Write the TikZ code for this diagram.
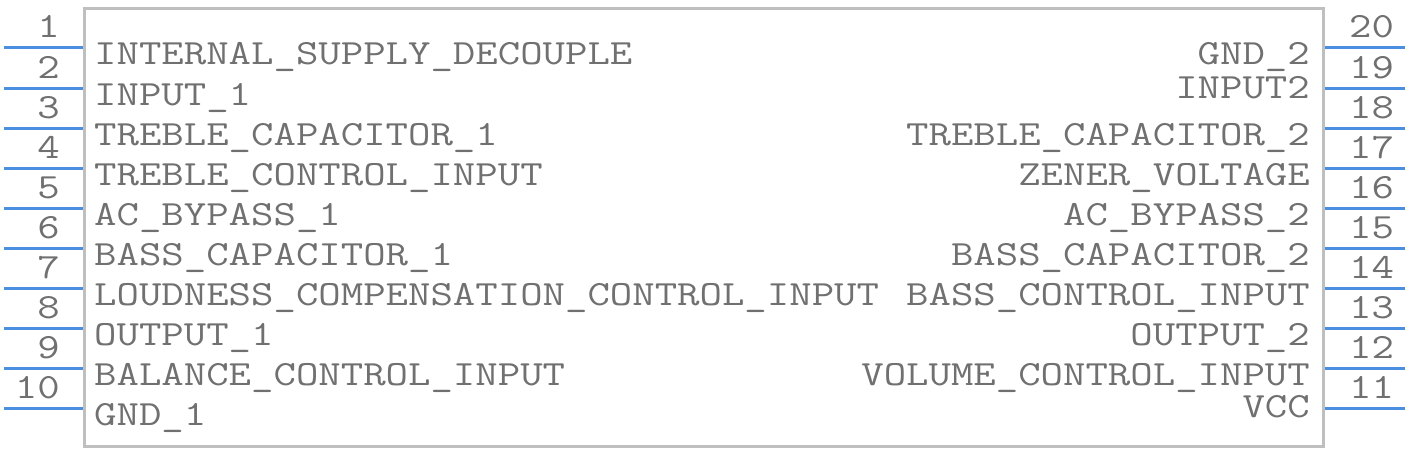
\documentclass[tikz,border=0pt]{standalone}
\usepackage{tikz}
\definecolor{pinblue}{HTML}{4A8FE2}
\definecolor{bodygray}{HTML}{BFBFBF}
\definecolor{textgray}{HTML}{707070}
\newcommand{\wide}[1]{\scalebox{1.23}[1]{#1}}
\tikzset{%
    body/.style={line width=3pt, bodygray},
    pinline/.style={line width=3pt, pinblue},
    pinnum/.style={%
        inner sep=0pt,
        text=textgray,
        font=\fontsize{35.4}{40}\selectfont\ttfamily
    },
    pinname/.style={pinnum}
}

\begin{document}
\begin{tikzpicture}[x=1pt, y=-1pt]

    \useasboundingbox (0, 0) rectangle (1408, 452);

    % Body
    \draw[body] (84, 9) rectangle (1323, 446);

    % Left pins
    \foreach \n/\name in {%
            1/INTERNAL\_SUPPLY\_DECOUPLE,
            2/INPUT\_1,
            3/TREBLE\_CAPACITOR\_1,
            4/TREBLE\_CONTROL\_INPUT,
            5/AC\_BYPASS\_1,
            6/BASS\_CAPACITOR\_1,
            7/LOUDNESS\_COMPENSATION\_CONTROL\_INPUT,
            8/OUTPUT\_1,
            9/BALANCE\_CONTROL\_INPUT,
            10/GND\_1}{%
        \draw[pinline] (4, 8+40*\n) -- (83, 8+40*\n);
        \node[pinnum, anchor=base east] (num-\n) at (60, -2+40*\n) {\wide{\n}};
        \node[pinname, anchor=base west] (name-\n) at (94, 25+40*\n) {\wide{\name}};
    }

    % Right pins
    \foreach \r/\n/\base/\name in {%
            1/20/65/GND\_2,
            2/19/99/INPUT2,
            3/18/145/TREBLE\_CAPACITOR\_2,
            4/17/185/ZENER\_VOLTAGE,
            5/16/225/AC\_BYPASS\_2,
            6/15/265/BASS\_CAPACITOR\_2,
            7/14/305/BASS\_CONTROL\_INPUT,
            8/13/345/OUTPUT\_2,
            9/12/385/VOLUME\_CONTROL\_INPUT,
            10/11/417/VCC}{%
        \draw[pinline] (1325, 8+40*\r) -- (1405, 8+40*\r);
        \node[pinnum, anchor=base west] (num-\n) at (1349, -2+40*\r) {\wide{\n}};
        \node[pinname, anchor=base east] (name-\n) at (1310, \base) {\wide{\name}};
    }

\end{tikzpicture}
\end{document}
